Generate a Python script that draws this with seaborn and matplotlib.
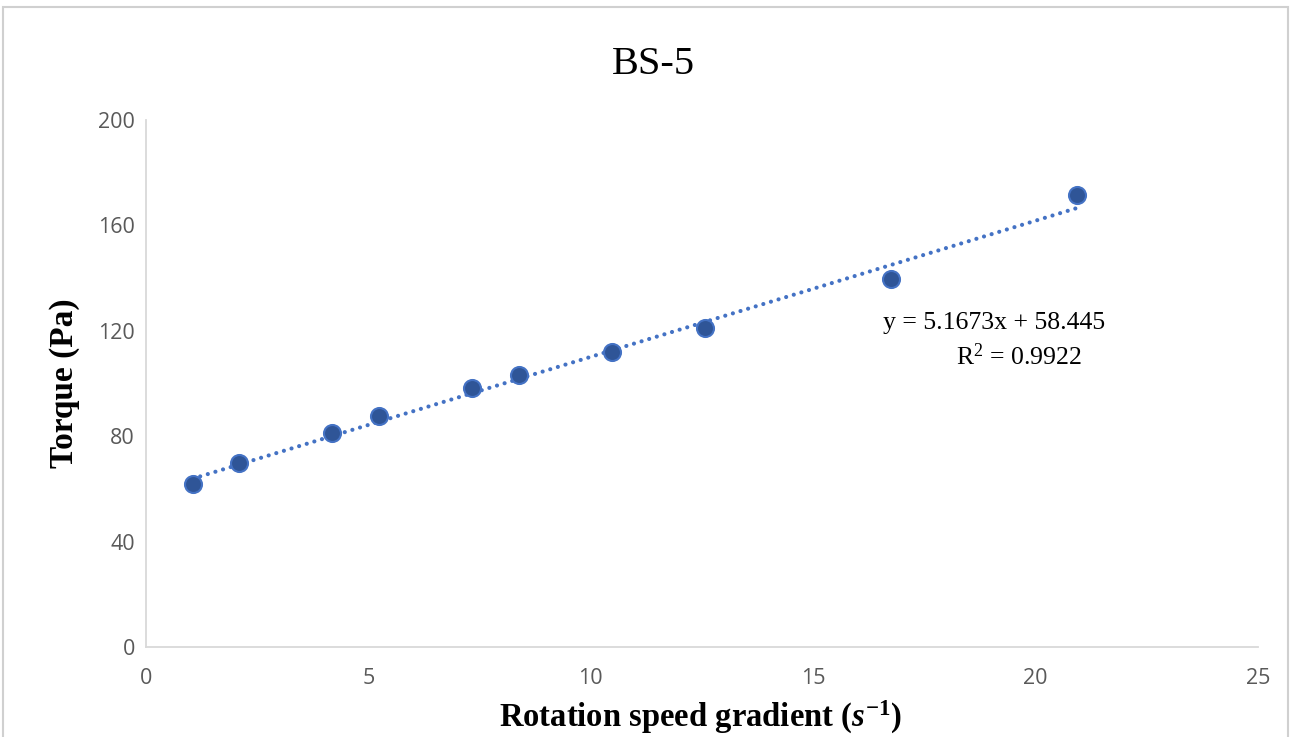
import numpy as np
import pandas as pd
import matplotlib
matplotlib.use("Agg")
import matplotlib.pyplot as plt
import seaborn as sns
from matplotlib.patches import Rectangle

# Data
shear_rate = [1.047, 2.094, 4.189, 5.236, 7.330, 8.378, 10.47, 12.57, 16.76, 20.94]
torque = [61.8, 69.8, 81.2, 87.7, 98.3, 103.2, 111.9, 121.1, 139.7, 171.5]
slope = 5.1673
intercept = 58.445
r2 = 0.9922
x_ticks = [0, 5, 10, 15, 20, 25]
y_ticks = [0, 40, 80, 120, 160, 200]
title = "BS-5"

df = pd.DataFrame({"x": shear_rate, "y": torque})

sns.set_theme(style="white")
plt.rcParams["font.family"] = ["Open Sans", "DejaVu Sans"]
plt.rcParams["mathtext.fontset"] = "custom"
plt.rcParams["mathtext.rm"] = "Liberation Serif"
plt.rcParams["mathtext.bf"] = "Liberation Serif:bold"
plt.rcParams["mathtext.it"] = "Liberation Serif:italic:bold"

fig = plt.figure(figsize=(12.9, 7.37), dpi=100)
ax = fig.add_axes([146/1290, 1-647/737, (1258-146)/1290, (647-120)/737])

# trendline
xs = np.array([min(shear_rate), max(shear_rate)])
ax.plot(xs, slope*xs + intercept, color="#4472C4", lw=3.0,
        linestyle=(0, (0.01, 1.9)), dash_capstyle="round", zorder=2)

sns.scatterplot(data=df, x="x", y="y", ax=ax, s=150, color="#2F5597",
                edgecolor="#4472C4", linewidth=1.5, zorder=3)

ax.set_xlim(0, 25)
ax.set_ylim(0, 200)
ax.set_xticks(x_ticks)
ax.set_yticks(y_ticks)
ax.tick_params(axis="both", length=0, labelsize=15.5, labelcolor="#595959")
ax.tick_params(axis="x", pad=15)
ax.tick_params(axis="y", pad=8)
for s in ["top", "right"]:
    ax.spines[s].set_visible(False)
for s in ["left", "bottom"]:
    ax.spines[s].set_color("#D9D9D9")
    ax.spines[s].set_linewidth(1.3)

ax.set_xlabel(r"Rotation speed gradient ($\mathit{s}^{\mathbf{-1}}$)", fontsize=23.5,
              fontweight="bold", family="Liberation Serif", color="black")
ax.xaxis.set_label_coords((701-146)/1112, -(699-647)/527)
ax.set_ylabel("Torque (Pa)", fontsize=24, fontweight="bold",
              family="Liberation Serif", color="black")
ax.yaxis.set_label_coords(-(146-80)/1112, (647-383)/527)

fig.text(653/1290, 1-65/737, title, fontsize=29, family="Liberation Serif",
         ha="center", va="center", color="black")

fig.text(994/1290, 1-323/737, f"y = {slope}x + {intercept}", fontsize=18.5,
         family="Liberation Serif", ha="center", va="center", color="black")
fig.text(1019/1290, 1-357/737, f"R$^2$ = {r2}", fontsize=18.5,
         family="Liberation Serif", ha="center", va="center", color="black")

fig.patches.append(Rectangle((3/1290, -0.05), (1288-3)/1290, 1.05-7/737,
                             transform=fig.transFigure, fill=False,
                             edgecolor="#D0D0D0", linewidth=1.5))

fig.savefig("out.png", dpi=100)
